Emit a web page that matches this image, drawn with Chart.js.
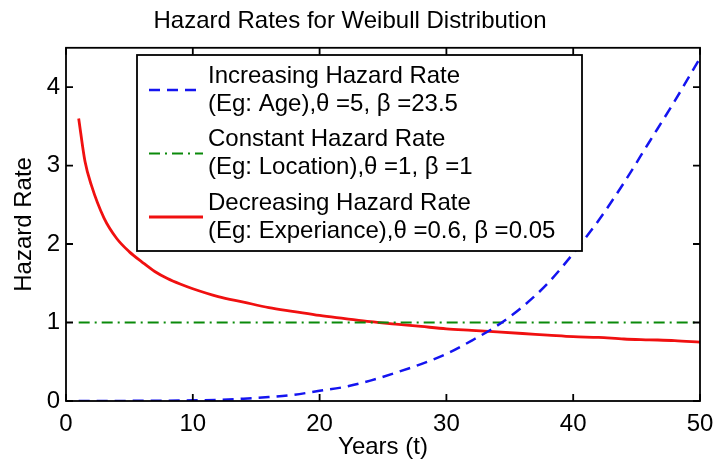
<!DOCTYPE html>
<html>
<head>
<meta charset="utf-8">
<script src="https://cdn.jsdelivr.net/npm/chart.js@4.4.1/dist/chart.umd.min.js"></script>
<style>
  html, body { margin: 0; padding: 0; background: #fff; }
  #wrap { width: 715px; height: 466px; }
</style>
</head>
<body>
<div id="wrap"><canvas id="hazardCanvas" width="715" height="466"></canvas></div>
<script>
// values
const titleText = 'Hazard Rates for Weibull Distribution';
const xTicks = [0, 10, 20, 30, 40, 50];
const yTicks = [0, 1, 2, 3, 4];

const incYears = [1, 4, 8, 10, 12, 14, 16, 18, 20, 22, 24, 26, 28, 30, 32, 34, 36, 38, 40, 42, 44, 46, 48, 50];
const incRate  = [0, 0.001, 0.004, 0.008, 0.015, 0.03, 0.05, 0.08, 0.13, 0.18, 0.26, 0.36, 0.47, 0.6, 0.77, 0.96, 1.2, 1.5, 1.88, 2.3, 2.78, 3.3, 3.82, 4.37];

const constYears = [1, 50];
const constRate  = [1, 1];

const decYears = [1, 1.5, 2, 3, 4, 5, 6, 7, 8, 9, 10, 12, 14, 16, 18, 20, 22, 24, 26, 28, 30, 32, 34, 36, 38, 40, 42, 44, 46, 48, 50];
const decRate  = [3.6, 3.05, 2.75, 2.33, 2.07, 1.9, 1.77, 1.65, 1.56, 1.49, 1.43, 1.33, 1.26, 1.19, 1.14, 1.09, 1.05, 1.01, 0.98, 0.95, 0.92, 0.9, 0.88, 0.86, 0.84, 0.82, 0.81, 0.79, 0.78, 0.77, 0.75];

const seriesLabels = [
  ['Increasing Hazard Rate', '(Eg: Age),\u03b8 =5, \u03b2 =23.5'],
  ['Constant Hazard Rate', '(Eg: Location),\u03b8 =1, \u03b2 =1'],
  ['Decreasing Hazard Rate', '(Eg: Experiance),\u03b8 =0.6, \u03b2 =0.05']
];

const FONT = '"Liberation Sans", Arial, sans-serif';
const BLUE = '#1414f0';
const GREEN = '#0a8a0a';
const RED = '#f01010';

function toPoints(xs, ys) {
  return xs.map((x, i) => ({ x, y: ys[i] }));
}

// black box with inward ticks on all four sides, like the original
const framePlugin = {
  id: 'frame',
  afterDatasetsDraw(chart) {
    const { ctx, chartArea: a, scales: { x, y } } = chart;
    const len = 7;
    ctx.save();
    ctx.strokeStyle = '#000';
    ctx.lineWidth = 1.8;
    ctx.strokeRect(a.left, a.top, a.right - a.left, a.bottom - a.top);
    ctx.beginPath();
    xTicks.forEach(v => {
      const px = x.getPixelForValue(v);
      ctx.moveTo(px, a.bottom); ctx.lineTo(px, a.bottom - len);
      ctx.moveTo(px, a.top); ctx.lineTo(px, a.top + len);
    });
    yTicks.forEach(v => {
      const py = y.getPixelForValue(v);
      ctx.moveTo(a.left, py); ctx.lineTo(a.left + len, py);
      ctx.moveTo(a.right, py); ctx.lineTo(a.right - len, py);
    });
    ctx.stroke();
    ctx.restore();
  }
};

// boxed legend with two text lines per entry
const boxLegendPlugin = {
  id: 'boxLegend',
  afterDraw(chart) {
    const { ctx } = chart;
    const box = { left: 137, top: 55, right: 582, bottom: 251 };
    ctx.save();
    ctx.fillStyle = '#fff';
    ctx.fillRect(box.left, box.top, box.right - box.left, box.bottom - box.top);
    ctx.strokeStyle = '#000';
    ctx.lineWidth = 1.8;
    ctx.strokeRect(box.left, box.top, box.right - box.left, box.bottom - box.top);

    chart.data.datasets.forEach((ds, i) => {
      const cy = 90 + i * 63.5;
      ctx.beginPath();
      ctx.strokeStyle = ds.borderColor;
      ctx.lineWidth = ds.borderWidth;
      ctx.setLineDash(ds.borderDash || []);
      ctx.moveTo(149, cy);
      ctx.lineTo(203, cy);
      ctx.stroke();
      ctx.setLineDash([]);

      ctx.fillStyle = '#000';
      ctx.font = '24px ' + FONT;
      ctx.textBaseline = 'middle';
      ctx.textAlign = 'left';
      ctx.fillText(seriesLabels[i][0], 208, cy - 14);
      ctx.fillText(seriesLabels[i][1], 208, cy + 14);
    });
    ctx.restore();
  }
};

const ctx = document.getElementById('hazardCanvas').getContext('2d');

new Chart(ctx, {
  type: 'line',
  data: {
    datasets: [
      {
        label: 'Increasing Hazard Rate',
        data: toPoints(incYears, incRate),
        borderColor: BLUE,
        borderWidth: 2.5,
        borderDash: [11, 7],
        cubicInterpolationMode: 'monotone'
      },
      {
        label: 'Constant Hazard Rate',
        data: toPoints(constYears, constRate),
        borderColor: GREEN,
        borderWidth: 2,
        borderDash: [11, 5, 2, 5]
      },
      {
        label: 'Decreasing Hazard Rate',
        data: toPoints(decYears, decRate),
        borderColor: RED,
        borderWidth: 2.8,
        cubicInterpolationMode: 'monotone'
      }
    ]
  },
  options: {
    responsive: false,
    animation: false,
    layout: { padding: { left: 0, right: 15, top: 0, bottom: 0 } },
    elements: { point: { radius: 0 } },
    plugins: {
      legend: { display: false },
      tooltip: { enabled: false },
      title: {
        display: true,
        text: titleText,
        color: '#000',
        font: { family: FONT, size: 24, weight: 'normal' },
        padding: { top: 7, bottom: 12 }
      }
    },
    scales: {
      x: {
        type: 'linear',
        min: 0,
        max: 50,
        ticks: { stepSize: 10, color: '#000', padding: 9, font: { family: FONT, size: 24 } },
        grid: { display: false, drawTicks: false },
        border: { display: false },
        title: {
          display: true,
          text: 'Years (t)',
          color: '#000',
          font: { family: FONT, size: 24 },
          padding: { top: 0, bottom: 4 }
        },
        afterFit(scale) {
          scale.height = 65;
          scale.paddingLeft = 0;
          scale.paddingRight = 0;
        }
      },
      y: {
        type: 'linear',
        min: 0,
        max: 4.5,
        ticks: {
          stepSize: 1,
          color: '#000',
          padding: 6,
          font: { family: FONT, size: 24 },
          callback: v => Number.isInteger(v) ? v : ''
        },
        grid: { display: false, drawTicks: false },
        border: { display: false },
        title: {
          display: true,
          text: 'Hazard Rate',
          color: '#000',
          font: { family: FONT, size: 24 },
          padding: { top: 10, bottom: 0 }
        },
        afterFit(scale) {
          scale.width = 66;
          scale.paddingTop = 0;
          scale.paddingBottom = 0;
        }
      }
    }
  },
  plugins: [framePlugin, boxLegendPlugin]
});
</script>
</body>
</html>
